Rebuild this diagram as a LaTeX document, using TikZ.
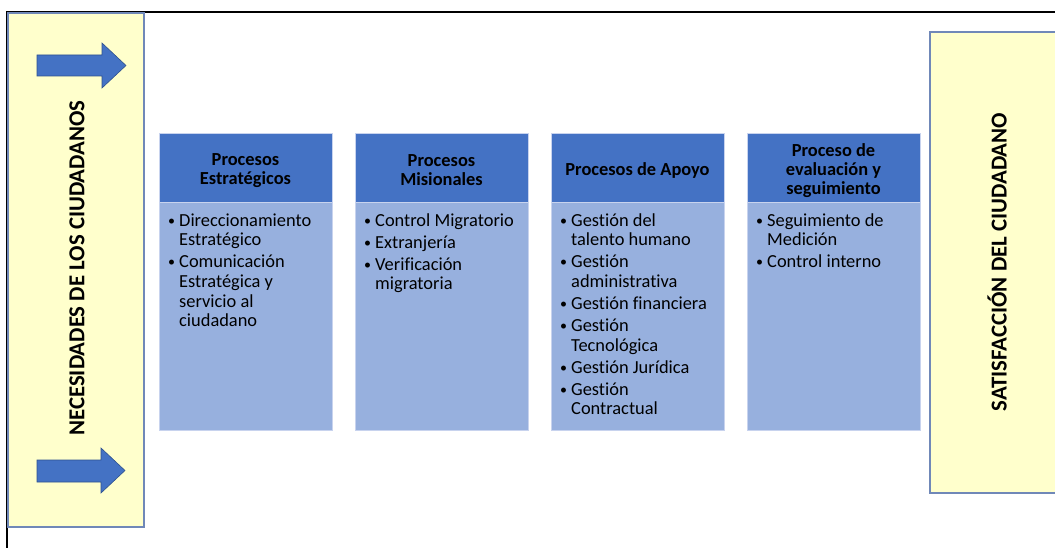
\documentclass[tikz,border=0pt]{standalone}
\usepackage{fontspec}
\setmainfont{Carlito}[Ligatures=NoCommon]
\definecolor{hdrblue}{HTML}{4472C4}
\definecolor{bodyblue}{HTML}{97B0DE}
\definecolor{paleyellow}{HTML}{FFFFCC}
\definecolor{sideedge}{HTML}{7088B8}
\definecolor{boxedge}{HTML}{C8D3EE}
\definecolor{arrowedge}{HTML}{2F528F}
\newcommand\bi{\makebox[15pt]{\raisebox{1pt}{\fontsize{14}{14}\selectfont\textbullet}}}
\tikzset{
  sidebox/.style={fill=paleyellow, draw=sideedge, line width=1.1pt},
  sidetext/.style={rotate=90, font=\bfseries\fontsize{22.8}{26}\selectfont, inner sep=0pt},
  hdrbox/.style={fill=hdrblue, draw=boxedge, line width=0.8pt},
  bodybox/.style={fill=bodyblue, draw=boxedge, line width=0.8pt},
  hdrtext/.style={align=center, font=\bfseries\fontsize{18.4}{19}\selectfont, inner sep=0pt},
  bodytext/.style={anchor=north west, inner sep=0pt, font=\fontsize{18.4}{19.7}\selectfont},
  bluearrow/.style={fill=hdrblue, draw=arrowedge, line width=0.6pt, line join=miter},
}
\begin{document}
\begin{tikzpicture}[x=1pt,y=-1pt]
\path[use as bounding box] (0,0) rectangle (1055,548);
\clip (0,0) rectangle (1055,548);
\fill[white] (0,0) rectangle (1055,548);
% frame
\draw[black, line width=1.6pt] (7,548) -- (7,12) -- (1060,12);
% side boxes
\path[sidebox] (8,13) rectangle (144,527);
\node[sidetext] (needs) at (77,268) {NECESIDADES DE LOS CIUDADANOS};
\path[sidebox] (930,32) rectangle (1064,493);
\node[sidetext] (satis) at (997,262) {SATISFACCIÓN DEL CIUDADANO};
% arrows
\path[bluearrow] (37,55) -- (102,55) -- (102,43) -- (126,65.5) -- (102,88) -- (102,76) -- (37,76) -- cycle;
\path[bluearrow] (37,460) -- (101,460) -- (101,448) -- (125,470.5) -- (101,493) -- (101,482) -- (37,482) -- cycle;
% columns
\foreach \cx/\nm in {159/a,355/b,551/c,747/d}{
  \path[bodybox] (\cx,202) rectangle ++(173,228);
  \path[hdrbox] (\cx,133) rectangle ++(173,69);
}
\node[hdrtext] (ha) at (245.5,170.5) {Procesos\\Estratégicos};
\node[hdrtext] (hb) at (441.5,170.5) {Procesos\\Misionales};
\node[hdrtext] (hc) at (637.5,170.5) {Procesos de Apoyo};
\node[hdrtext] (hd) at (833.5,170.5) {Proceso de\\evaluación y\\seguimiento};
\node[bodytext] (ba) at (164,212.2) {\begin{tabular}{@{}l@{}l@{}}
\bi & Direccionamiento\\
 & Estratégico\\[2.3pt]
\bi & Comunicación\\
 & Estratégica y\\
 & servicio al\\
 & ciudadano
\end{tabular}};
\node[bodytext] (bb) at (360,212.2) {\begin{tabular}{@{}l@{}l@{}}
\bi & Control Migratorio\\[2.3pt]
\bi & Extranjería\\[2.3pt]
\bi & Verificación\\
 & migratoria
\end{tabular}};
\node[bodytext] (bc) at (556,212.2) {\begin{tabular}{@{}l@{}l@{}}
\bi & Gestión del\\
 & talento humano\\[2.3pt]
\bi & Gestión\\
 & administrativa\\[2.3pt]
\bi & Gestión financiera\\[2.3pt]
\bi & Gestión\\
 & Tecnológica\\[2.3pt]
\bi & Gestión Jurídica\\[2.3pt]
\bi & Gestión\\
 & Contractual
\end{tabular}};
\node[bodytext] (bd) at (752,212.2) {\begin{tabular}{@{}l@{}l@{}}
\bi & Seguimiento de\\
 & Medición\\[2.3pt]
\bi & Control interno
\end{tabular}};
\end{tikzpicture}
\end{document}
